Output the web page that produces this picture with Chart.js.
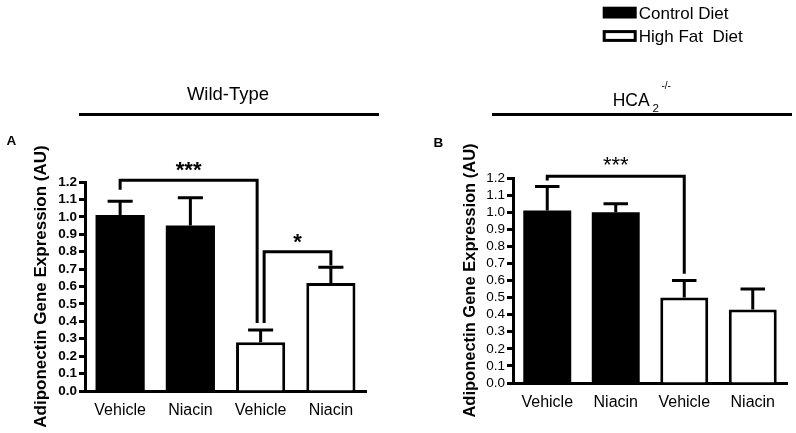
<!DOCTYPE html>
<html><head><meta charset="utf-8">
<script src="https://cdn.jsdelivr.net/npm/chart.js@4.4.1/dist/chart.umd.min.js"></script>
<style>
html,body{margin:0;padding:0;background:#fff;width:796px;height:433px;overflow:hidden}
canvas{position:absolute;top:0}
#cA{left:0}
#cB{left:430px}
</style></head><body>
<canvas id="cA" width="400" height="433"></canvas>
<canvas id="cB" width="366" height="433"></canvas>
<script>
// ---------------- data ----------------
const categories = ['Vehicle', 'Niacin', 'Vehicle', 'Niacin'];
const seriesNames = ['Control Diet', 'High Fat  Diet'];
const yTicks = [0.0, 0.1, 0.2, 0.3, 0.4, 0.5, 0.6, 0.7, 0.8, 0.9, 1.0, 1.1, 1.2];
const yTitle = 'Adiponectin Gene Expression (AU)';

// Panel A: Wild-Type
const wtControl = [1.01, 0.95, null, null];
const wtHighFat = [null, null, 0.28, 0.62];
const wtError   = [0.08, 0.16, 0.07, 0.09];
// brackets: [fromCategory, toCategory, level, fromEnd, toEnd, label]
const wtBrackets = [
  [0, 2, 1.21, 1.155, 0.39, '***'],
  [2, 3, 0.80, 0.39, 0.72, '*']
];

// Panel B: HCA2 -/-
const hcaControl = [1.01, 1.00, null, null];
const hcaHighFat = [null, null, 0.50, 0.43];
const hcaError   = [0.14, 0.05, 0.10, 0.12];
const hcaBrackets = [
  [0, 2, 1.21, 1.185, 0.64, '***']
];

// ---------------- plugins ----------------
const SANS = "'Liberation Sans', Arial, sans-serif";

const errorBarPlugin = {
  id: 'errorBars',
  afterDatasetsDraw(chart, args, opts) {
    const ctx = chart.ctx, y = chart.scales.y;
    ctx.save();
    ctx.strokeStyle = '#000';
    ctx.lineWidth = opts.lineWidth;
    ctx.lineCap = 'butt';
    chart.data.datasets.forEach((ds, di) => {
      const meta = chart.getDatasetMeta(di);
      meta.data.forEach((bar, i) => {
        const v = ds.data[i];
        if (v === null || v === undefined) return;
        const top = y.getPixelForValue(v + opts.errors[i]);
        const half = bar.width * opts.capFraction / 2;
        ctx.beginPath();
        ctx.moveTo(bar.x, bar.y);
        ctx.lineTo(bar.x, top);
        ctx.moveTo(bar.x - half, top);
        ctx.lineTo(bar.x + half, top);
        ctx.stroke();
      });
    });
    ctx.restore();
  }
};

const bracketPlugin = {
  id: 'brackets',
  afterDraw(chart, args, opts) {
    const ctx = chart.ctx, x = chart.scales.x, y = chart.scales.y;
    ctx.save();
    ctx.strokeStyle = '#000';
    ctx.fillStyle = '#000';
    ctx.lineWidth = opts.lineWidth;
    ctx.lineJoin = 'miter';
    ctx.lineCap = 'butt';
    opts.items.forEach((b, k) => {
      const dx = (opts.dx && opts.dx[k]) || [0, 0];
      const x1 = x.getPixelForValue(b[0]) + dx[0];
      const x2 = x.getPixelForValue(b[1]) + dx[1];
      const yl = y.getPixelForValue(b[2]);
      const y1 = y.getPixelForValue(b[3]);
      const y2 = y.getPixelForValue(b[4]);
      ctx.beginPath();
      ctx.moveTo(x1, y1);
      ctx.lineTo(x1, yl);
      ctx.lineTo(x2, yl);
      ctx.lineTo(x2, y2);
      ctx.stroke();
      ctx.font = opts.font;
      ctx.textAlign = 'center';
      ctx.textBaseline = 'alphabetic';
      ctx.fillText(b[5], (x1 + x2) / 2, yl + opts.textShift);
    });
    ctx.restore();
  }
};

const decorPlugin = {
  id: 'decor',
  afterDraw(chart, args, opts) {
    const ctx = chart.ctx;
    ctx.save();
    ctx.fillStyle = '#000';
    ctx.strokeStyle = '#000';
    ctx.textBaseline = 'alphabetic';
    (opts.texts || []).forEach(t => {
      ctx.font = t.font;
      ctx.textAlign = t.align || 'left';
      ctx.fillText(t.text, t.x, t.y);
    });
    (opts.lines || []).forEach(l => {
      ctx.lineWidth = l.w;
      ctx.beginPath();
      ctx.moveTo(l.x1, l.y);
      ctx.lineTo(l.x2, l.y);
      ctx.stroke();
    });
    if (opts.legend) {
      const L = opts.legend;
      chart.data.datasets.forEach((ds, i) => {
        const top = L.y + i * L.step;
        ctx.fillStyle = ds.backgroundColor;
        ctx.fillRect(L.x, top, L.boxW, L.boxH);
        if (ds.borderWidth) {
          ctx.lineWidth = ds.borderWidth;
          ctx.strokeStyle = ds.borderColor;
          ctx.strokeRect(L.x + ds.borderWidth / 2, top + ds.borderWidth / 2,
                         L.boxW - ds.borderWidth, L.boxH - ds.borderWidth);
        }
        ctx.fillStyle = '#000';
        ctx.font = L.font;
        ctx.textAlign = 'left';
        ctx.fillText(ds.label, L.x + L.boxW + 2, top + L.textDy);
      });
    }
    ctx.restore();
  }
};

function makeChart(id, control, highFat, errors, brackets, cfg) {
  return new Chart(document.getElementById(id), {
    type: 'bar',
    data: {
      labels: categories,
      datasets: [
        {label: seriesNames[0], data: control, backgroundColor: '#000', borderColor: '#000',
         borderWidth: 0, skipNull: true, categoryPercentage: 1, barPercentage: 0.7},
        {label: seriesNames[1], data: highFat, backgroundColor: '#fff', borderColor: '#000',
         borderWidth: 3, skipNull: true, categoryPercentage: 1, barPercentage: 0.7}
      ]
    },
    options: {
      responsive: false,
      animation: false,
      devicePixelRatio: 1,
      layout: {padding: cfg.padding},
      plugins: {
        legend: {display: false},
        tooltip: {enabled: false},
        errorBars: {errors: errors, lineWidth: 3, capFraction: 0.51},
        brackets: {items: brackets, lineWidth: 3, dx: cfg.bracketDx, font: cfg.starFont, textShift: cfg.starShift},
        decor: cfg.decor
      },
      scales: {
        x: {
          grid: {display: false},
          border: {display: true, width: 3, color: '#000'},
          ticks: {font: cfg.xFont, color: '#000', padding: cfg.xPad, maxRotation: 0, autoSkip: false},
          afterFit: s => { s.height = cfg.xHeight; }
        },
        y: {
          min: 0, max: 1.2,
          afterBuildTicks: s => { s.ticks = yTicks.map(v => ({value: v})); },
          ticks: {callback: v => Number(v).toFixed(1), font: cfg.yFont, color: '#000', padding: 2, autoSkip: false},
          grid: {drawOnChartArea: false, drawTicks: true, tickLength: 6, tickWidth: 3, tickColor: '#000'},
          border: {display: true, width: 3, color: '#000'},
          title: {display: true, text: yTitle, color: '#000', font: cfg.titleFont, padding: {top: 31, bottom: 0}},
          afterFit: s => { s.width = cfg.yWidth; }
        }
      }
    },
    plugins: [errorBarPlugin, bracketPlugin, decorPlugin]
  });
}

makeChart('cA', wtControl, wtHighFat, wtError, wtBrackets, {
  padding: {left: 0, right: 34, top: 182, bottom: 0},
  yWidth: 85, xHeight: 42, xPad: 2,
  xFont: {family: SANS, size: 16},
  yFont: {family: SANS, size: 13.5, weight: 'bold'},
  titleFont: {family: SANS, size: 17, weight: 'bold'},
  bracketDx: [[0, -3.5], [3.5, 0]],
  starFont: "bold 22px " + SANS, starShift: -3,
  decor: {
    texts: [
      {text: 'Wild-Type', x: 228, y: 100, align: 'center', font: '18.5px ' + SANS},
      {text: 'A', x: 6.5, y: 145, font: 'bold 13.5px ' + SANS}
    ],
    lines: [{x1: 79, x2: 379, y: 114.5, w: 3}]
  }
});

makeChart('cB', hcaControl, hcaHighFat, hcaError, hcaBrackets, {
  padding: {left: 0, right: 9, top: 178, bottom: 0},
  yWidth: 83, xHeight: 50, xPad: 2,
  xFont: {family: SANS, size: 16},
  yFont: {family: SANS, size: 13.5},
  titleFont: {family: SANS, size: 16.5, weight: 'bold'},
  bracketDx: [[0, 0]],
  starFont: "22px " + SANS, starShift: -4,
  decor: {
    texts: [
      {text: 'HCA', x: 182.7, y: 106, font: '17.5px ' + SANS},
      {text: '2', x: 222.5, y: 111.7, font: '11.5px ' + SANS},
      {text: '-/-', x: 231.5, y: 88.5, font: '10px ' + SANS},
      {text: 'B', x: 3.5, y: 146.5, font: 'bold 13.5px ' + SANS}
    ],
    lines: [{x1: 62, x2: 362, y: 114.5, w: 3}],
    legend: {x: 172.7, y: 6.7, step: 23.4, boxW: 34, boxH: 11.8, textDy: 12, font: '17px ' + SANS}
  }
});
</script>
</body></html>
